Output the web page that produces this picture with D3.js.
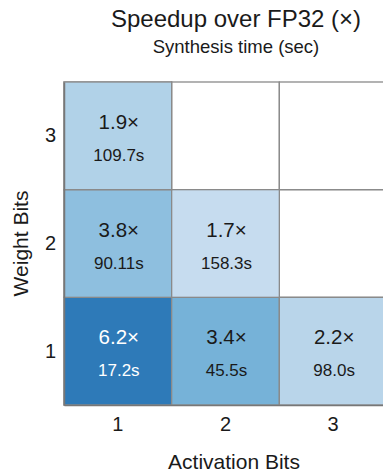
<!DOCTYPE html>
<html><head><meta charset="utf-8">
<script src="https://cdn.jsdelivr.net/npm/d3@7"></script>
<style>body{margin:0;background:#fff}svg{display:block}text{font-family:"Liberation Sans",Arial,Helvetica,sans-serif;fill:#1a1a1a}</style>
</head><body>
<script>
const activationBits = [1, 2, 3];
const weightBits = [1, 2, 3];
// cells: [activation, weight]
const cellAct = [1, 2, 3, 1, 2, 1];
const cellWeight = [1, 1, 1, 2, 2, 3];
const speedup = [6.2, 3.4, 2.2, 3.8, 1.7, 1.9];
const synthTime = ["17.2", "45.5", "98.0", "90.11", "158.3", "109.7"];
const palette = ["#2e7ab8", "#76b2d8", "#b9d5ea", "#8ebfdf", "#c6dcef", "#b1d2e8"];

const W = 383, H = 474;
const svg = d3.select("body").append("svg").attr("width", W).attr("height", H);
const m = {left: 64, top: 82};
const size = 323;
const x = d3.scaleBand().domain(activationBits).range([m.left, m.left + size]);
const y = d3.scaleBand().domain(weightBits).range([m.top + size, m.top]);

const all = [];
activationBits.forEach(a => weightBits.forEach(w => all.push([a, w])));
svg.append("g").selectAll("rect").data(all).join("rect")
  .attr("x", d => x(d[0])).attr("y", d => y(d[1]))
  .attr("width", x.bandwidth()).attr("height", y.bandwidth())
  .attr("fill", "#fff").attr("stroke", "#8a8a8a").attr("stroke-width", 1.3);

const cells = speedup.map((s, i) => ({a: cellAct[i], w: cellWeight[i], s, t: synthTime[i], c: palette[i]}));
const g = svg.append("g").selectAll("g").data(cells).join("g");
g.append("rect")
  .attr("x", d => x(d.a)).attr("y", d => y(d.w))
  .attr("width", x.bandwidth()).attr("height", y.bandwidth())
  .attr("fill", d => d.c).attr("stroke", "#8a8a8a").attr("stroke-width", 1.3);
g.append("text")
  .attr("x", d => x(d.a) + x.bandwidth() / 2 + 1)
  .attr("y", d => y(d.w) + y.bandwidth() / 2 - 7)
  .attr("text-anchor", "middle").attr("font-size", 20.5)
  .style("fill", d => d.s > 5 ? "#fff" : "#1a1a1a")
  .text(d => d.s.toFixed(1) + "×");
g.append("text")
  .attr("x", d => x(d.a) + x.bandwidth() / 2 + 1)
  .attr("y", d => y(d.w) + y.bandwidth() / 2 + 25)
  .attr("text-anchor", "middle").attr("font-size", 17)
  .style("fill", d => d.s > 5 ? "#fff" : "#1a1a1a")
  .text(d => d.t + "s");

const xa = svg.append("g").attr("transform", `translate(0,${m.top + size})`)
  .call(d3.axisBottom(x).tickSize(0).tickPadding(12));
xa.select(".domain").attr("stroke", "#777").attr("stroke-width", 1.5);
xa.selectAll("text").attr("font-size", 20).attr("font-family", "Liberation Sans, Arial, sans-serif").style("fill", "#1a1a1a");
const ya = svg.append("g").attr("transform", `translate(${m.left},0)`)
  .call(d3.axisLeft(y).tickSize(0).tickPadding(8));
ya.select(".domain").attr("stroke", "#777").attr("stroke-width", 1.5);
ya.selectAll("text").attr("font-size", 20).attr("font-family", "Liberation Sans, Arial, sans-serif").style("fill", "#1a1a1a");

svg.append("text").attr("x", 234).attr("y", 469).attr("text-anchor", "middle")
  .attr("font-size", 21).text("Activation Bits");
svg.append("text").attr("transform", `translate(28,${m.top + size / 2}) rotate(-90)`)
  .attr("text-anchor", "middle").attr("font-size", 21).text("Weight Bits");
svg.append("text").attr("x", 236).attr("y", 27).attr("text-anchor", "middle")
  .attr("font-size", 24).text("Speedup over FP32 (×)");
svg.append("text").attr("x", 236).attr("y", 53).attr("text-anchor", "middle")
  .attr("font-size", 18.5).text("Synthesis time (sec)");
</script>
</body></html>
